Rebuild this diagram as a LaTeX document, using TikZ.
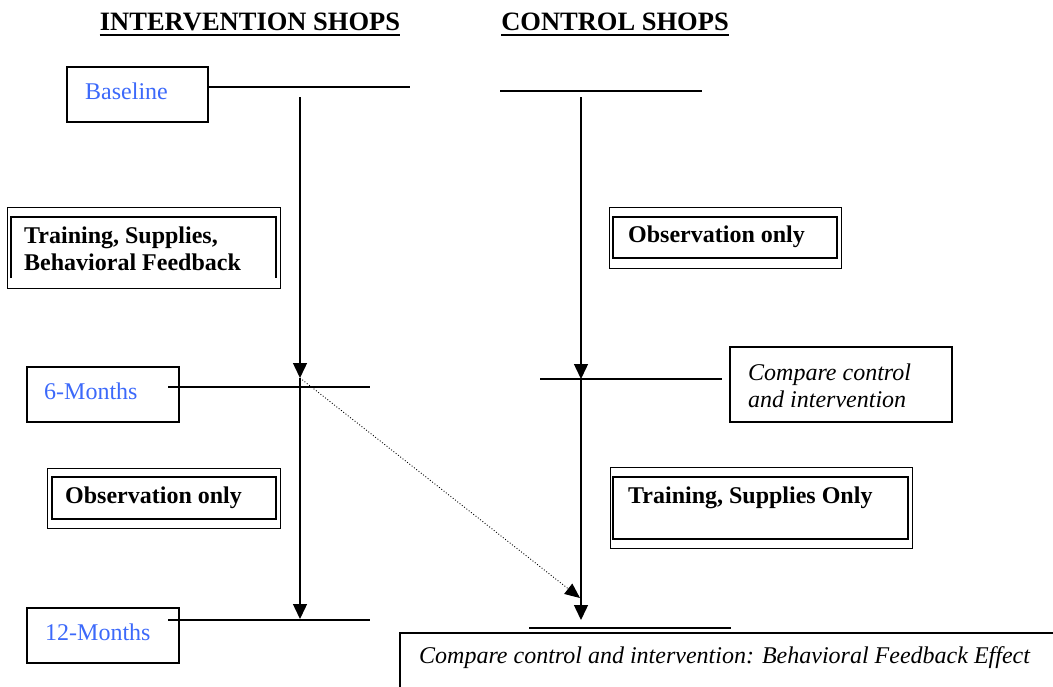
\documentclass[tikz,border=0pt]{standalone}
\usepackage{fontspec}
\setmainfont{Liberation Serif}
\usetikzlibrary{arrows.meta}
\definecolor{lblue}{RGB}{60,105,250}
\begin{document}
\begin{tikzpicture}[x=1pt,y=-1pt,
  frame/.style={draw, line width=1.2pt, inner sep=0pt},
  outerframe/.style={draw, line width=0.9pt, inner sep=0pt},
  innerframe/.style={draw, line width=2.4pt, inner sep=0pt},
  txt/.style={anchor=base west, inner sep=0pt, font=\fontsize{24}{27}\selectfont},
  ttl/.style={anchor=base, inner sep=0pt, font=\fontsize{26.5}{30}\selectfont\bfseries},
  tl/.style={line width=1.4pt},
  arr/.style={line width=1.4pt, -{Triangle[length=15pt,width=14pt]}},
  dotarr/.style={line width=0.9pt, dotted, -{Triangle[length=15pt,width=13pt]}}]
\useasboundingbox (0,0) rectangle (1053,686);
\clip (0,0) rectangle (1053,686);

% titles
\node[ttl] (t1) at (250,30) {INTERVENTION SHOPS};
\node[ttl] (t2) at (615,30) {CONTROL SHOPS};
\draw[line width=2.6pt] ([yshift=-5pt]t1.base west) -- ([yshift=-5pt]t1.base east);
\draw[line width=2.6pt] ([yshift=-5pt]t2.base west) -- ([yshift=-5pt]t2.base east);

% time point boxes
\node[frame, minimum width=141pt, minimum height=55pt] (bb) at (137.5,94.5) {};
\node[frame, minimum width=152pt, minimum height=55pt] (b6) at (103,394.5) {};
\node[frame, minimum width=152pt, minimum height=55pt] (b12) at (103,635.5) {};
\node[txt, text=lblue] (tb) at (85,99) {Baseline};
\node[txt, text=lblue] (t6) at (44,399) {6-Months};
\node[txt, text=lblue] (t12) at (45,640) {12-Months};

% left training box
\node[outerframe, minimum width=273pt, minimum height=81pt] (tro) at (143.5,247.5) {};
\coordinate (tri1) at (11,278);
\coordinate (tri2) at (11,217);
\coordinate (tri3) at (276,217);
\coordinate (tri4) at (276,278);
\draw[line width=2.4pt] (tri1) -- (tri2) -- (tri3) -- (tri4);
\node[txt, font=\fontsize{24}{27}\selectfont\bfseries] (ttr1) at (24,243) {Training, Supplies,};
\node[txt, font=\fontsize{24}{27}\selectfont\bfseries] (ttr2) at (24,270) {Behavioral Feedback};

% left observation box
\node[outerframe, minimum width=233pt, minimum height=60pt] (olo) at (163.5,498) {};
\node[innerframe, minimum width=224pt, minimum height=42pt] (oli) at (164,498) {};
\node[txt, font=\fontsize{24}{27}\selectfont\bfseries] (tol) at (65,503) {Observation only};

% right observation box
\node[outerframe, minimum width=232pt, minimum height=61pt] (oro) at (725,237.5) {};
\node[innerframe, minimum width=224pt, minimum height=41pt] (ori) at (725,237.5) {};
\node[txt, font=\fontsize{24}{27}\selectfont\bfseries] (tor) at (628,242) {Observation only};

% compare box
\node[frame, minimum width=222pt, minimum height=75pt] (cb) at (841,384.5) {};
\node[txt, font=\fontsize{24}{27}\selectfont\itshape] (tc1) at (748,380) {Compare control};
\node[txt, font=\fontsize{24}{27}\selectfont\itshape] (tc2) at (748,407) {and intervention};

% right training box
\node[outerframe, minimum width=302pt, minimum height=81pt] (tso) at (761,507.5) {};
\node[innerframe, minimum width=295pt, minimum height=62pt] (tsi) at (760.5,508) {};
\node[txt, font=\fontsize{24}{27}\selectfont\bfseries] (tts) at (628,503) {Training, Supplies Only};

% bottom compare box
\node[frame, minimum width=660pt, minimum height=67pt] (bcb) at (730,666.5) {};
\node[txt, font=\fontsize{24}{27}\selectfont\itshape] (tbc) at (419,663) {Compare control and intervention: Behavioral Feedback Effect};

% horizontal time lines
\coordinate (hb1) at (208,87);  \coordinate (hb2) at (410,87);
\coordinate (hb3) at (500,91);  \coordinate (hb4) at (702,91);
\coordinate (h61) at (168,387); \coordinate (h62) at (370,387);
\coordinate (h63) at (540,379); \coordinate (h64) at (722,379);
\coordinate (h121) at (168,620); \coordinate (h122) at (370,620);
\coordinate (h123) at (529,628); \coordinate (h124) at (731,628);
\draw[tl] (hb1) -- (hb2);
\draw[tl] (hb3) -- (hb4);
\draw[tl] (h61) -- (h62);
\draw[tl] (h63) -- (h64);
\draw[tl] (h121) -- (h122);
\draw[tl] (h123) -- (h124);

% vertical arrows
\coordinate (l0) at (300,97);
\coordinate (l1) at (300,378);
\coordinate (l2) at (300,619);
\coordinate (r0) at (581,97);
\coordinate (r1) at (581,379);
\coordinate (r2) at (581,620);
\coordinate (dend) at (580,598);
\draw[arr] (l0) -- (l1);
\draw[arr] (l1) -- (l2);
\draw[arr] (r0) -- (r1);
\draw[arr] (r1) -- (r2);
\draw[dotarr] (l1) -- (dend);
\end{tikzpicture}
\end{document}
